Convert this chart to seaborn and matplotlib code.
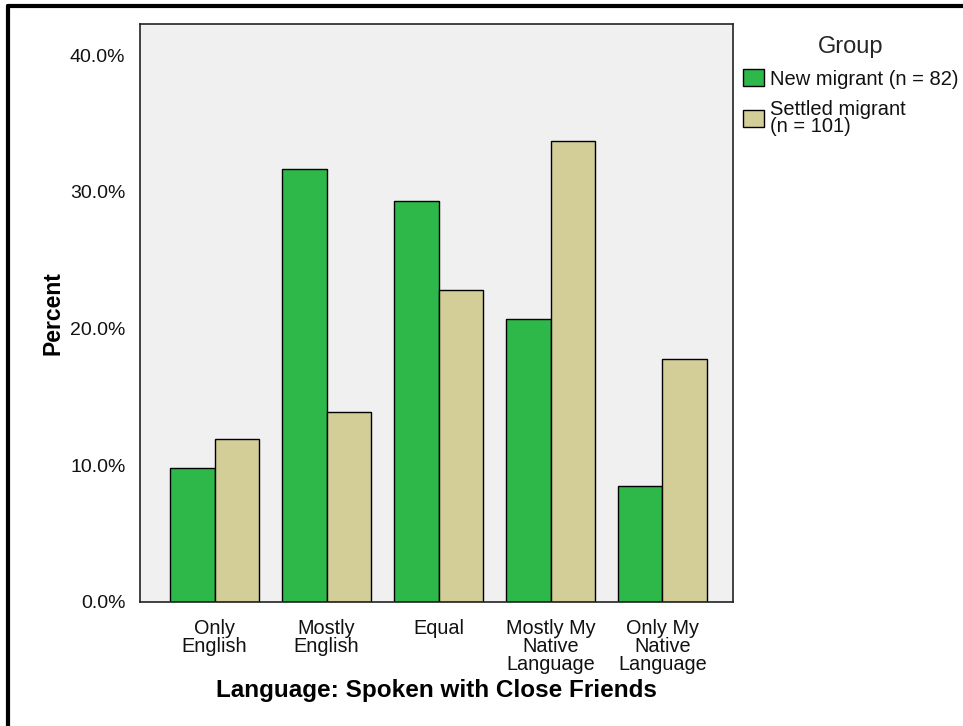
import matplotlib
matplotlib.use("Agg")
import matplotlib.pyplot as plt
from matplotlib.ticker import PercentFormatter
from matplotlib.lines import Line2D
import seaborn as sns
import pandas as pd

categories = ["Only\nEnglish", "Mostly\nEnglish", "Equal",
              "Mostly My\nNative\nLanguage", "Only My\nNative\nLanguage"]
groups = ["New migrant (n = 82)", "Settled migrant\n(n = 101)"]
new_migrant = [9.8, 31.7, 29.3, 20.7, 8.5]
settled_migrant = [11.9, 13.9, 22.8, 33.7, 17.8]
colors = ["#2fb84a", "#d3ce98"]

df = pd.DataFrame({
    "Language": categories * 2,
    "Percent": new_migrant + settled_migrant,
    "Group": [groups[0]] * len(categories) + [groups[1]] * len(categories),
})

sns.set_style("white")
plt.rcParams["font.family"] = ["Liberation Sans", "DejaVu Sans"]

W, H = 963, 726
fig = plt.figure(figsize=(W / 100, H / 100), dpi=100)
ax = fig.add_axes([140 / W, (H - 602) / H, (733 - 140) / W, (602 - 24) / H])
ax.set_facecolor("#f0f0f0")

sns.barplot(data=df, x="Language", y="Percent", hue="Group", hue_order=groups,
            order=categories, palette=colors, edgecolor="black", linewidth=1,
            width=0.8, saturation=1, ax=ax, errorbar=None)

ax.set_xlim(-0.667, 4.63)
ax.set_ylim(0, (602 - 24) / 13.67)
ax.set_yticks([0, 10, 20, 30, 40])
ax.yaxis.set_major_formatter(PercentFormatter(decimals=1))
for s in ax.spines.values():
    s.set_color("#222222")
    s.set_linewidth(1.2)
ax.tick_params(axis="y", direction="out", length=9.5, width=1.2, color="#222222",
               labelsize=14, labelcolor="#111111", pad=1)
ax.tick_params(axis="x", direction="out", length=9, width=1.2, color="#222222",
               labelsize=14.3, labelcolor="#111111", pad=3)
for lbl in ax.get_xticklabels():
    lbl.set_linespacing(0.93)
ax.set_xlabel("Language: Spoken with Close Friends", fontsize=17.5, fontweight="bold",
              labelpad=4, color="black")
ax.set_ylabel("Percent", fontsize=16.5, fontweight="bold", labelpad=4, color="black")

sns.move_legend(ax, loc="upper left", bbox_to_anchor=(743 / W, 1 - 36 / H),
                bbox_transform=fig.transFigure, frameon=False, title="Group",
                fontsize=14.5, title_fontsize=17, handlelength=1.05, handleheight=0.95,
                handletextpad=0.3, labelspacing=0.55, borderaxespad=0, borderpad=0)
leg = ax.get_legend()
for t in leg.get_texts():
    t.set_linespacing(0.85)
    t.set_color("#111111")

# outer frame lines (top and left)
fig.add_artist(Line2D([8 / W, 1], [1 - 6 / H, 1 - 6 / H], transform=fig.transFigure,
                      color="black", lw=3))
fig.add_artist(Line2D([8 / W, 8 / W], [0, 1 - 6 / H], transform=fig.transFigure,
                      color="black", lw=3))

fig.savefig("out.png", dpi=100)
